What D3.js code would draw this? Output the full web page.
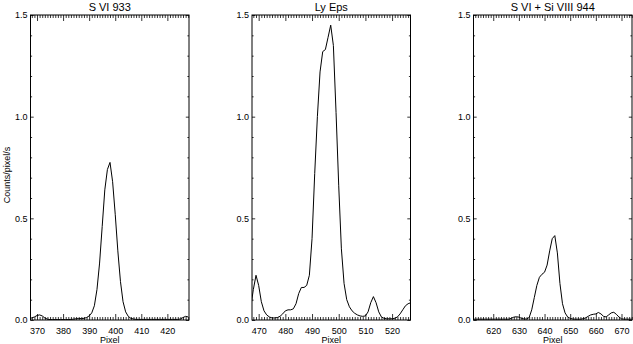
<!DOCTYPE html>
<html><head><meta charset="utf-8">
<script src="https://cdn.jsdelivr.net/npm/d3@7"></script>
<style>
body{margin:0;background:#fff;}
text{font-family:"Liberation Sans",Arial,sans-serif;fill:#000;}
</style>
</head><body>
<svg id="c" width="633" height="344"></svg>
<script>
// ---- data ----
const titles = ["S VI 933", "Ly Eps", "S VI + Si VIII 944"];
const pixelStarts = [367, 467, 612];
const xDomains = [[367.5, 428.3], [467.5, 526.9], [612.3, 674.1]];
const xTickValues = [[370, 380, 390, 400, 410, 420], [470, 480, 490, 500, 510, 520], [620, 630, 640, 650, 660, 670]];
const yTickValues = [0, 0.5, 1.0, 1.5];
const yDomain = [0, 1.5];

const counts1 = [
  0.008, 0.010, 0.015, 0.022, 0.025, 0.020, 0.010, 0.004, 0.002, 0.002,
  0.002, 0.002, 0.002, 0.002, 0.002, 0.002, 0.003, 0.004, 0.006, 0.007,
  0.007, 0.008, 0.012, 0.020, 0.035, 0.070, 0.150, 0.280, 0.460, 0.640,
  0.740, 0.775, 0.680, 0.520, 0.340, 0.190, 0.090, 0.040, 0.018, 0.008,
  0.005, 0.003, 0.003, 0.003, 0.003, 0.003, 0.003, 0.003, 0.003, 0.003,
  0.003, 0.003, 0.003, 0.003, 0.003, 0.003, 0.003, 0.003, 0.005, 0.012,
  0.018, 0.015
];
const counts2 = [
  0.06, 0.15, 0.22, 0.17, 0.09, 0.045, 0.025, 0.015, 0.010, 0.010,
  0.012, 0.018, 0.030, 0.045, 0.050, 0.050, 0.055, 0.080, 0.130, 0.160,
  0.160, 0.170, 0.220, 0.400, 0.720, 1.000, 1.220, 1.320, 1.330, 1.390,
  1.450, 1.350, 1.020, 0.660, 0.350, 0.180, 0.100, 0.065, 0.045, 0.033,
  0.025, 0.020, 0.018, 0.020, 0.040, 0.085, 0.115, 0.085, 0.040, 0.015,
  0.008, 0.006, 0.006, 0.006, 0.008, 0.015, 0.030, 0.050, 0.070, 0.080,
  0.085
];
const counts3 = [
  0.004, 0.004, 0.004, 0.004, 0.004, 0.004, 0.004, 0.004, 0.004, 0.004,
  0.004, 0.004, 0.004, 0.004, 0.004, 0.008, 0.014, 0.016, 0.014, 0.008,
  0.005, 0.005, 0.012, 0.050, 0.110, 0.170, 0.210, 0.225, 0.235, 0.270,
  0.340, 0.400, 0.415, 0.330, 0.180, 0.080, 0.035, 0.015, 0.008, 0.005,
  0.004, 0.004, 0.004, 0.006, 0.010, 0.018, 0.025, 0.028, 0.030, 0.037,
  0.030, 0.018, 0.015, 0.025, 0.035, 0.038, 0.028, 0.015, 0.006, 0.004,
  0.004, 0.004, 0.004
];
const allCounts = [counts1, counts2, counts3];

// ---- layout ----
const panelLefts = [30.5, 252, 473.5];
const panelW = 158.5;
const plotTop = 15, plotBottom = 320;
const svg = d3.select("#c");

panelLefts.forEach((left, i) => {
  const x = d3.scaleLinear().domain(xDomains[i]).range([left, left + panelW]);
  const y = d3.scaleLinear().domain(yDomain).range([plotBottom, plotTop]);
  const g = svg.append("g");
  const clipId = "clip" + i;
  svg.append("clipPath").attr("id", clipId).append("rect")
    .attr("x", left).attr("y", plotTop).attr("width", panelW).attr("height", plotBottom - plotTop);

  const minorX = d3.range(Math.ceil(xDomains[i][0]), Math.floor(xDomains[i][1]) + 1)
    .filter(v => v % 10 !== 0);
  const minorY = d3.range(0, 16).map(v => v / 10).filter(v => Math.abs(v * 2 - Math.round(v * 2)) > 1e-6);

  const gb = g.append("g").attr("transform", `translate(0,${plotBottom})`);
  gb.call(d3.axisBottom(x).tickValues(xTickValues[i]).tickSize(-6).tickPadding(8).tickFormat(d3.format("d")));
  gb.append("g").call(d3.axisBottom(x).tickValues(minorX).tickSize(-3).tickFormat(""));
  const gt = g.append("g").attr("transform", `translate(0,${plotTop})`);
  gt.call(d3.axisTop(x).tickValues(xTickValues[i]).tickSize(-6).tickFormat(""));
  gt.append("g").call(d3.axisTop(x).tickValues(minorX).tickSize(-3).tickFormat(""));
  const gl = g.append("g").attr("transform", `translate(${left},0)`);
  gl.call(d3.axisLeft(y).tickValues(yTickValues).tickSize(-3.2).tickPadding(3).tickFormat(d3.format(".1f")));
  gl.append("g").call(d3.axisLeft(y).tickValues(minorY).tickSize(-1.6).tickFormat(""));
  const gr = g.append("g").attr("transform", `translate(${left + panelW},0)`);
  gr.call(d3.axisRight(y).tickValues(yTickValues).tickSize(-3.2).tickFormat(""));
  gr.append("g").call(d3.axisRight(y).tickValues(minorY).tickSize(-1.6).tickFormat(""));

  g.selectAll(".domain").remove();
  g.selectAll(".tick line").attr("stroke", "#000").attr("stroke-width", 0.8);
  g.selectAll(".tick text").attr("font-size", 9).attr("font-family", "Liberation Sans, Arial, sans-serif");

  g.append("rect").attr("x", left).attr("y", plotTop).attr("width", panelW).attr("height", plotBottom - plotTop)
    .attr("fill", "none").attr("stroke", "#000").attr("stroke-width", 1);

  const data = allCounts[i].map((v, k) => [pixelStarts[i] + k, v]);
  g.append("path").datum(data)
    .attr("clip-path", `url(#${clipId})`)
    .attr("fill", "none").attr("stroke", "#000").attr("stroke-width", 1)
    .attr("d", d3.line().x(d => x(d[0])).y(d => y(d[1])));

  g.append("text").attr("x", left + panelW / 2).attr("y", 10.5).attr("text-anchor", "middle")
    .attr("font-size", 11).text(titles[i]);
  g.append("text").attr("x", left + panelW / 2).attr("y", 343).attr("text-anchor", "middle")
    .attr("font-size", 9).text("Pixel");
});

svg.append("text").attr("transform", "translate(10,175) rotate(-90)")
  .attr("text-anchor", "middle").attr("font-size", 9).text("Counts/pixel/s");
</script>
</body></html>
